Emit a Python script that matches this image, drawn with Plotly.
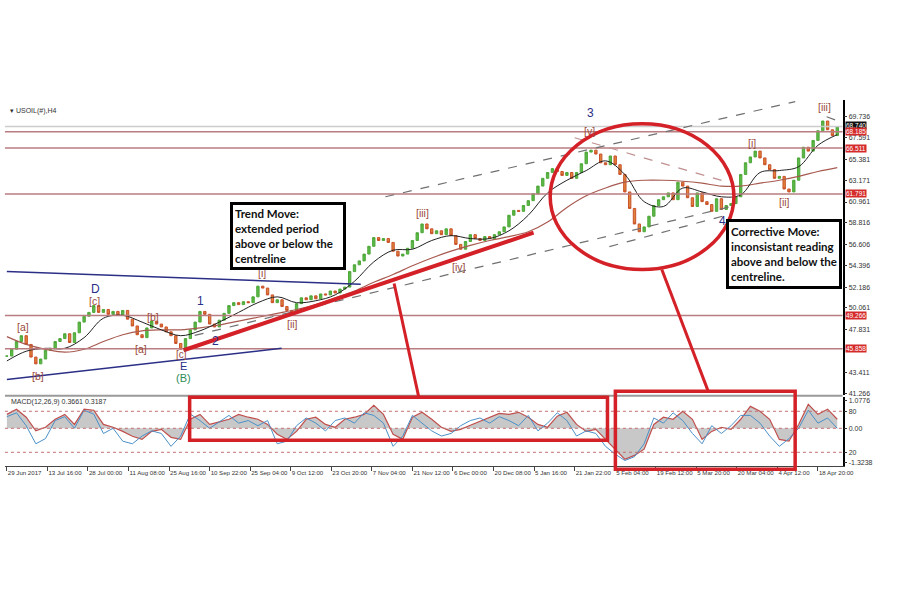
import plotly.graph_objects as go

# ---------------- data ----------------
bars = list(range(0, 1730, 10))          # H4 bar index (every 10th bar)
closes = [
    45.1, 45.8, 46.6, 47.2, 46.3, 45.0, 44.3, 44.8, 45.7, 45.9,
    46.6, 46.9, 47.4, 46.5, 47.5, 48.6, 49.2, 49.6, 50.3, 49.6,
    49.9, 49.4, 49.7, 49.3, 49.8, 48.9, 48.2, 47.3, 47.0, 48.0,
    48.7, 48.4, 48.1, 47.6, 47.2, 46.4, 45.8, 46.9, 47.8, 48.6,
    49.7, 49.4, 48.4, 48.1, 48.8, 49.5, 50.3, 50.6, 50.4, 50.7,
    50.6, 51.2, 52.3, 52.1, 51.4, 50.6, 50.9, 50.2, 49.8, 49.6,
    50.5, 51.1, 50.9, 51.3, 51.0, 51.5, 51.4, 51.8, 51.6, 52.0,
    52.2, 53.8, 54.5, 54.9, 55.6, 56.4, 57.3, 57.0, 57.2, 56.8,
    55.9, 55.4, 55.6, 56.2, 57.0, 57.8, 58.7, 58.2, 57.7, 58.0,
    57.6, 58.2, 57.5, 56.6, 56.1, 56.9, 57.6, 57.2, 57.0, 57.4,
    57.2, 57.6, 57.9, 58.4, 59.6, 60.1, 60.0, 60.6, 61.1, 61.8,
    62.6, 63.4, 64.0, 64.4, 64.1, 63.7, 64.0, 63.4, 64.0, 64.9,
    66.1, 66.3, 65.9, 65.0, 64.8, 65.7, 64.8, 63.8, 62.0, 60.3,
    58.7, 57.9, 58.4, 59.5, 60.6, 61.2, 61.5, 61.9, 61.2, 63.0,
    62.6, 61.4, 60.5, 61.9, 61.0, 60.7, 60.0, 61.3, 60.2, 60.6,
    60.8, 61.5, 63.8, 65.0, 65.6, 66.2, 65.5, 64.8, 64.3, 63.4,
    63.6, 62.3, 62.0, 63.2, 65.5, 66.6, 66.2, 67.3, 68.3, 69.3,
    68.4, 67.8, 68.7,
]

ma_bars = list(range(0, 1760, 40))
ma_fast = [44.6, 45.6, 45.9, 45.9, 47.0, 49.0, 49.3, 48.6, 47.8, 47.2,
           47.7, 48.6, 49.6, 50.6, 51.2, 50.6, 50.8, 51.4, 52.8, 54.8,
           56.0, 56.1, 57.0, 57.5, 57.2, 57.2, 58.0, 59.6, 61.9, 63.2,
           64.2, 65.2, 63.8, 61.0, 60.5, 62.4, 62.0, 61.5, 61.7, 64.0,
           64.2, 64.6, 66.8, 67.9]
ma_slow = [47.1, 46.3, 45.8, 45.5, 45.8, 46.6, 47.3, 47.7, 47.8, 47.8,
           48.0, 48.3, 48.7, 49.1, 49.5, 49.9, 50.4, 51.1, 51.8, 52.7,
           53.5, 54.4, 55.2, 55.9, 56.5, 57.0, 57.4, 57.9, 58.9, 60.4,
           61.6, 62.4, 63.0, 63.2, 63.2, 63.1, 62.9, 62.6, 62.6, 62.9,
           63.2, 63.6, 64.1, 64.5]

ind_bars = list(range(0, 1740, 20))
macd_signal = [
    0.54, 0.74, 0.43, -0.10, 0.04, 0.35, 0.54, 0.15, 0.74, 0.70,
    0.15, 0.04, -0.12, -0.31, -0.43, -0.12, -0.04, -0.35, -0.43, 0.35,
    0.54, 0.15, 0.25, 0.35, 0.54, 0.43, 0.35, 0.15, -0.23, -0.43, -0.12,
    0.35, 0.43, 0.15, 0.04, 0.35, 0.43, 0.54, 0.89, 0.54, -0.23,
    -0.43, 0.43, 0.62, 0.35, 0.04, -0.12, -0.04, 0.12, 0.27, 0.43,
    0.58, 0.54, 0.62, 0.43, 0.15, 0.04, 0.47, 0.62, 0.15, -0.12,
    -0.04, -0.43, -0.81, -1.20, -1.05, -0.81, 0.15, 0.43, 0.35, 0.66, 0.35,
    -0.43, -0.12, 0.04, -0.04, 0.35, 0.85, 0.66, 0.35, -0.43, -0.50,
    0.15, 0.93, 0.54, 0.74, 0.35,
]
macd_main = [
    0.45, 0.60, 0.10, -0.60, -0.40, 0.30, 0.45, 0.00, 0.70, 0.55,
    -0.20, 0.00, -0.50, -0.60, -0.30, -0.10, -0.20, -0.70, -0.30, 0.55,
    0.30, 0.00, 0.25, 0.50, 0.20, 0.30, 0.10, 0.30, -0.60, -0.50, 0.10,
    0.40, 0.20, -0.10, 0.30, 0.40, 0.20, 0.60, 0.50, 0.20, -0.70,
    -0.30, 0.50, 0.20, -0.10, -0.30, -0.20, 0.10, 0.30, 0.40, 0.20,
    0.45, 0.30, 0.10, 0.50, -0.10, 0.20, 0.60, 0.30, -0.30, -0.10,
    -0.20, -0.70, -1.00, -1.25, -1.10, -0.60, 0.40, 0.20, 0.60, 0.30, -0.20,
    -0.60, 0.10, -0.20, 0.10, 0.50, 0.50, 0.20, -0.30, -0.70, -0.40,
    0.00, 0.70, 0.20, 0.40, 0.00,
]

date_ticks = list(range(0, 1681, 84))
date_labels = ["29 Jun 2017", "13 Jul 16:00", "28 Jul 00:00", "11 Aug 08:00",
               "25 Aug 16:00", "10 Sep 22:00", "25 Sep 04:00", "9 Oct 12:00",
               "23 Oct 20:00", "7 Nov 04:00", "21 Nov 12:00", "6 Dec 00:00",
               "20 Dec 08:00", "5 Jan 16:00", "21 Jan 22:00", "5 Feb 04:00",
               "19 Feb 12:00", "5 Mar 20:00", "20 Mar 04:00", "4 Apr 12:00",
               "18 Apr 20:00"]
price_ticks = [69.736, 67.591, 65.381, 63.171, 60.961, 58.816, 56.606,
               54.396, 52.186, 50.061, 47.831, 43.411, 41.266]
price_tick_labels = ["69.736", "67.591", "65.381", "63.171", "60.961", "58.816",
                     "56.606", "54.396", "52.186", "50.061", "47.831", "43.411",
                     "41.266"]
level_values = [68.185, 66.511, 61.791, 49.266, 45.858]
level_labels = ["68.185", "66.511", "61.791", "49.266", "45.858"]
last_price = 68.740
macd_ticks = [1.0776, 0.66, 0.0, -0.93, -1.3238]
macd_tick_labels = ["1.0776", "80", "0.00", "20", "-1.3238"]

# ---------------- helpers ----------------
W, H = 900, 600
def PX(x): return x / W
def PY(y): return 1 - y / H

opens = [closes[0]] + closes[:-1]
highs = [max(o, c) for o, c in zip(opens, closes)]
lows = [min(o, c) for o, c in zip(opens, closes)]

RED = "#d42027"
NAVY = "#2b2f86"
BROWN = "#9b4a3c"
LEVEL = "#b97c80"

fig = go.Figure()
fig.add_trace(go.Candlestick(
    x=bars, open=opens, high=highs, low=lows, close=closes,
    increasing=dict(line=dict(color="#4fa83a", width=1), fillcolor="#5cb848"),
    decreasing=dict(line=dict(color="#c9502a", width=1), fillcolor="#e0843a"),
    whiskerwidth=0, xaxis="x", yaxis="y", showlegend=False, hoverinfo="skip"))
fig.add_trace(go.Scatter(x=ma_bars, y=ma_slow, mode="lines",
                         line=dict(color="#a85a50", width=1.2, shape="spline"),
                         xaxis="x", yaxis="y", showlegend=False))
fig.add_trace(go.Scatter(x=ma_bars, y=ma_fast, mode="lines",
                         line=dict(color="#222222", width=1, shape="spline"),
                         xaxis="x", yaxis="y", showlegend=False))

fig.add_trace(go.Scatter(x=ind_bars, y=macd_signal, mode="lines", fill="tozeroy",
                         fillcolor="#c8c8c8", line=dict(color="#c0504d", width=1.2),
                         xaxis="x2", yaxis="y2", showlegend=False))
fig.add_trace(go.Scatter(x=ind_bars, y=macd_main, mode="lines",
                         line=dict(color="#4a90c8", width=1),
                         xaxis="x2", yaxis="y2", showlegend=False))

tickfont = dict(family="Liberation Sans", size=7, color="#333")
xtickfont = dict(family="Liberation Sans", size=6.1, color="#333")
fig.update_layout(
    width=W, height=H, margin=dict(l=0, r=0, t=0, b=0),
    paper_bgcolor="white", plot_bgcolor="white", showlegend=False,
    xaxis=dict(domain=[PX(5), PX(853)], range=[-4, 1731], anchor="y",
               showticklabels=False, showgrid=False, zeroline=False,
               rangeslider=dict(visible=False), ticks=""),
    xaxis2=dict(domain=[PX(5), PX(853)], range=[-4, 1731], anchor="y2",
                showgrid=False, zeroline=False, showline=True, linecolor="#444",
                linewidth=1, ticks="outside", ticklen=4, tickcolor="#444",
                tickvals=date_ticks, ticktext=date_labels, tickangle=0,
                ticklabelposition="outside right", tickfont=xtickfont),
    yaxis=dict(domain=[PY(396), PY(100)], range=[41.06, 71.48], side="right",
               anchor="x", showgrid=False, zeroline=False, showline=True,
               linecolor="black", linewidth=1.5, ticks="outside", ticklen=3,
               tickcolor="#333", tickvals=price_ticks, ticktext=price_tick_labels,
               tickfont=tickfont),
    yaxis2=dict(domain=[PY(467), PY(398)], range=[-1.47, 1.20], side="right",
                anchor="x2", showgrid=False, zeroline=False, showline=True,
                linecolor="black", linewidth=1.5, ticks="outside", ticklen=3,
                tickcolor="#333", tickvals=macd_ticks, ticktext=macd_tick_labels,
                tickfont=tickfont),
)

shapes = []
# horizontal levels
shapes.append(dict(type="line", xref="x domain", x0=0, x1=1, yref="y",
                   y0=last_price, y1=last_price, line=dict(color="#cccccc", width=1.5)))
for v in level_values:
    shapes.append(dict(type="line", xref="x domain", x0=0, x1=1, yref="y",
                       y0=v, y1=v, line=dict(color=LEVEL, width=1.5)))
# MACD dotted levels
for v in [0.66, 0.0, -0.93]:
    shapes.append(dict(type="line", xref="x2 domain", x0=0, x1=1, yref="y2",
                       y0=v, y1=v, line=dict(color="#c47070", width=1, dash="dot")))

def dline(x0, y0, x1, y1, color, width, dash="solid"):
    shapes.append(dict(type="line", xref="x", yref="y", x0=x0, y0=y0, x1=x1, y1=y1,
                       line=dict(color=color, width=width, dash=dash)))

# trend lines (bar index, price)
dline(0, 53.8, 733, 52.5, NAVY, 1.5)
dline(0, 42.7, 569, 45.9, NAVY, 1.5)
dline(784, 61.5, 1633, 71.3, "#707070", 1.2, "dash")
dline(389, 47.23, 1500, 60.49, "#707070", 1.2, "dash")
dline(1248, 56.37, 1494, 59.66, "#707070", 1.2, "dash")
dline(1176, 67.58, 1489, 63.06, "#c09090", 1.2, "dash")
dline(1698, 69.74, 1721, 69.32, "#707070", 1.2, "dash")
dline(366, 45.7, 1091, 57.8, RED, 4)

# panel separator
shapes.append(dict(type="line", xref="paper", yref="paper", x0=PX(5), x1=PX(853),
                   y0=PY(396.5), y1=PY(396.5), line=dict(color="#9a9a9a", width=2)))
# red ellipse
shapes.append(dict(type="circle", xref="paper", yref="paper", x0=PX(557), x1=PX(743),
                   y0=PY(270), y1=PY(124), line=dict(color=RED, width=3.5)))
# red boxes in MACD panel
shapes.append(dict(type="rect", xref="paper", yref="paper", x0=PX(192), x1=PX(615),
                   y0=PY(441), y1=PY(398), line=dict(color=RED, width=3.5)))
shapes.append(dict(type="rect", xref="paper", yref="paper", x0=PX(623), x1=PX(805),
                   y0=PY(470), y1=PY(392), line=dict(color=RED, width=3.5)))
# connectors
shapes.append(dict(type="line", xref="paper", yref="paper", x0=PX(399), y0=PY(284),
                   x1=PX(424), y1=PY(398), line=dict(color=RED, width=3)))
shapes.append(dict(type="line", xref="paper", yref="paper", x0=PX(670), y0=PY(270),
                   x1=PX(717), y1=PY(392), line=dict(color=RED, width=3)))
fig.update_layout(shapes=shapes)

ann = []
def label(x, y, text, color, size=10.5, family="Liberation Sans"):
    ann.append(dict(xref="paper", yref="paper", x=PX(x), y=PY(y), text=text,
                    showarrow=False, xanchor="center", yanchor="middle",
                    font=dict(family=family, size=size, color=color)))

label(598, 113, "3", NAVY, 12)
label(597, 131, "[v]", BROWN)
label(835, 107, "[iii]", BROWN)
label(761, 143, "[i]", BROWN)
label(794, 202, "[ii]", BROWN)
label(731, 221, "4", NAVY, 12)
label(428, 213, "[iii]", BROWN)
label(465, 267, "[iv]", BROWN)
label(265, 273, "[i]", BROWN)
label(296, 325, "[ii]", BROWN)
label(203, 302, "1", NAVY, 12)
label(218, 342, "2", NAVY, 12)
label(97, 289, "D", NAVY, 12)
label(96, 302, "[c]", BROWN)
label(23, 328, "[a]", BROWN)
label(38, 377, "[b]", BROWN)
label(155, 318, "[b]", BROWN)
label(143, 350, "[a]", BROWN)
label(184, 355, "[c]", BROWN, 10)
label(186, 367, "E", NAVY, 11)
label(186, 379, "(B)", "#2e8b57", 11)

ann.append(dict(xref="paper", yref="paper", x=PX(8), y=PY(111), text="▾ USOIL(#),H4",
                showarrow=False, xanchor="left", yanchor="middle",
                font=dict(family="Liberation Sans", size=7, color="#333")))
ann.append(dict(xref="paper", yref="paper", x=PX(9), y=PY(403),
                text="MACD(12,26,9) 0.3661 0.3187", showarrow=False,
                xanchor="left", yanchor="middle",
                font=dict(family="Liberation Sans", size=7, color="#333")))

# highlighted price labels on the right axis
ann.append(dict(xref="paper", yref="y", x=PX(855), y=last_price, text="68.740",
                showarrow=False, xanchor="left", yanchor="middle", bgcolor="#111",
                borderpad=0, yshift=1,
                font=dict(family="Liberation Sans", size=6.5, color="white")))
for v, t in zip(level_values, level_labels):
    ann.append(dict(xref="paper", yref="y", x=PX(855), y=v, text=t,
                    showarrow=False, xanchor="left", yanchor="middle", bgcolor="#d42a2a",
                    borderpad=0,
                    font=dict(family="Liberation Sans", size=6.5, color="white")))

boxfont = dict(family="Lato", size=11.5, color="#111")
ann.append(dict(xref="paper", yref="paper", x=PX(292), y=PY(236),
                text="<b>Trend Move:<br>extended period<br>above or below the<br>centreline</b>",
                showarrow=False, xanchor="center", yanchor="middle", align="left",
                width=106, height=58, bgcolor="white", bordercolor="black",
                borderwidth=3, borderpad=2, font=boxfont))
ann.append(dict(xref="paper", yref="paper", x=PX(794), y=PY(254),
                text="<b>Corrective Move:<br>inconsistant reading<br>above and below the<br>centreline.</b>",
                showarrow=False, xanchor="center", yanchor="middle", align="left",
                width=106, height=60, bgcolor="white", bordercolor="black",
                borderwidth=3, borderpad=2, font=boxfont))
fig.update_layout(annotations=ann)

fig.write_html("out.html")
